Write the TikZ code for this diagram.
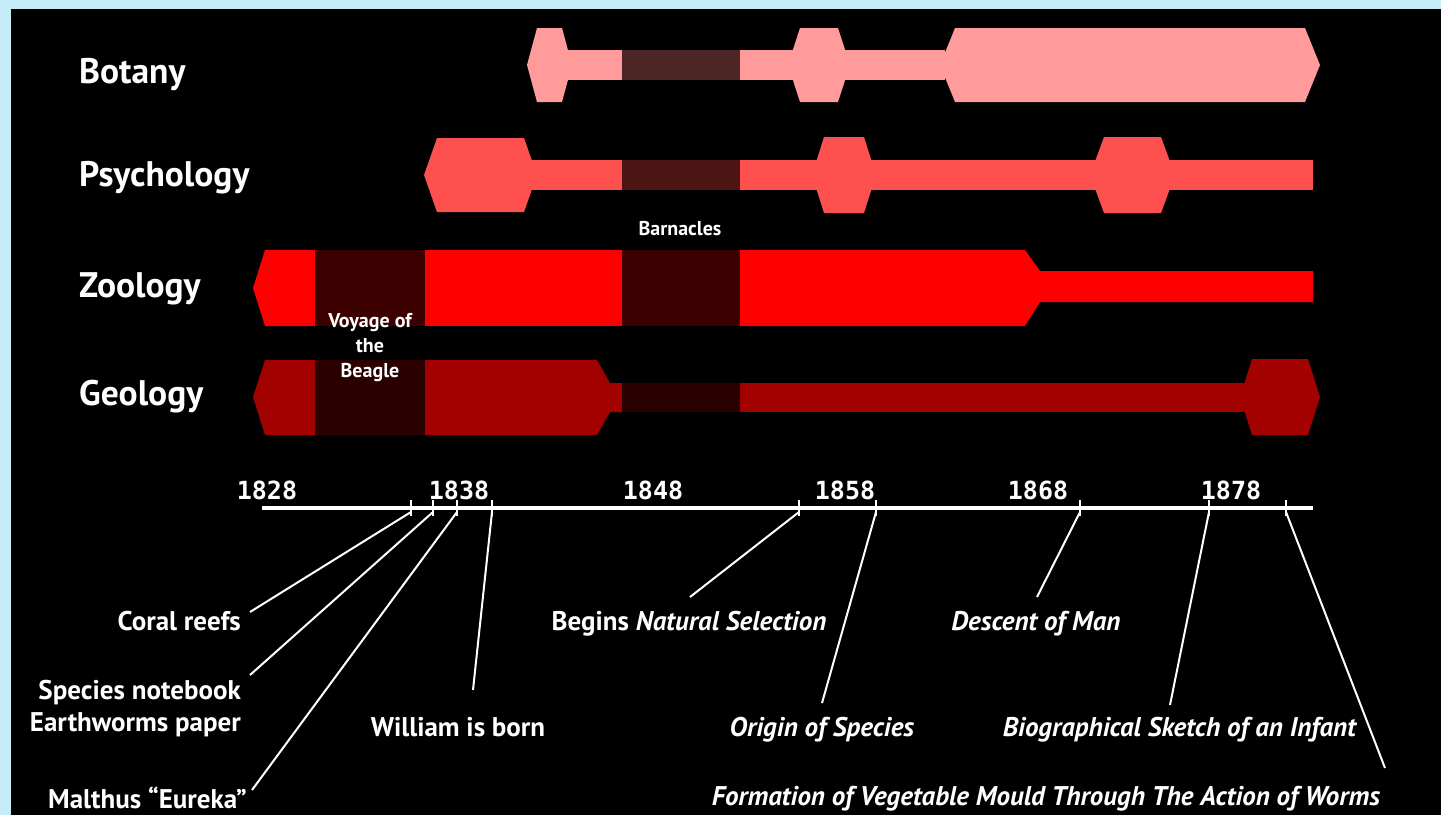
\documentclass[tikz,border=0pt]{standalone}
\usepackage{fontspec}
\setmainfont{PT Sans}
\newfontfamily\yearfont{DejaVu Sans Mono}
\usetikzlibrary{positioning}
\definecolor{sky}{RGB}{198,236,248}
\definecolor{botc}{RGB}{255,155,155}
\definecolor{botd}{RGB}{77,38,38}
\definecolor{psyc}{RGB}{255,80,80}
\definecolor{psyd}{RGB}{77,20,20}
\definecolor{zooc}{RGB}{255,0,0}
\definecolor{zood}{RGB}{60,0,0}
\definecolor{geoc}{RGB}{163,0,0}
\definecolor{geod}{RGB}{42,0,0}

\begin{document}
\begin{tikzpicture}[x=1pt,y=-1pt,
	field/.style={text=white,font=\fontsize{35.5}{38}\selectfont\bfseries,anchor=base west,inner sep=0pt},
	yearlbl/.style={text=white,font=\fontsize{25}{27}\selectfont\yearfont\bfseries,anchor=base,inner sep=0pt},
	event/.style={text=white,font=\fontsize{27}{29}\selectfont\bfseries,inner sep=0pt},
	small/.style={text=white,font=\fontsize{20}{25}\selectfont\bfseries,align=center,inner sep=0pt},
	lead/.style={white,line width=2pt}]
\def\hex#1#2#3#4#5{(#1,#3) -- (#1+#5,#3-#4) -- (#2-#5,#3-#4) -- (#2,#3) -- (#2-#5,#3+#4) -- (#1+#5,#3+#4) -- cycle}

\useasboundingbox (0,0) rectangle (1441,815);
\fill[sky] (0,0) rectangle (1441,815);
\fill[black] (11,9) rectangle (1441,815);

\foreach \l/\n/\y in {bot/Botany/83,psy/Psychology/186,zoo/Zoology/297,geo/Geology/405}
	\node[field] (\l) at (79,\y) {\n};

% Botany
\fill[botc] (560,50) rectangle (945,80);
\fill[botd] (622,50) rectangle (740,80);
\fill[botc] \hex{527}{572}{65}{37}{10};
\fill[botc] \hex{788}{850}{65}{37}{12};
\fill[botc] \hex{940}{1320}{65}{37}{15};

% Psychology
\fill[psyc] (530,160) rectangle (1313,190);
\fill[psyd] (622,160) rectangle (740,190);
\fill[psyc] \hex{424}{537}{175}{37}{13};
\fill[psyc] \hex{812}{876}{175}{38}{12};
\fill[psyc] \hex{1090}{1175}{175}{38}{14};

% Zoology
\fill[zooc] (253,288) -- (265,250) -- (315,250) -- (315,326) -- (265,326) -- cycle;
\fill[zood] (315,250) rectangle (425,326);
\fill[zooc] (425,250) rectangle (622,326);
\fill[zood] (622,250) rectangle (740,326);
\fill[zooc] (740,250) -- (1025,250) -- (1040,271) -- (1313,271) -- (1313,302)
	-- (1040,302) -- (1025,326) -- (740,326) -- cycle;

% Geology
\fill[geoc] (253,397) -- (265,360) -- (315,360) -- (315,435) -- (265,435) -- cycle;
\fill[geod] (315,360) rectangle (425,435);
\fill[geoc] (425,360) -- (597,360) -- (610,383) -- (622,383) -- (622,412)
	-- (610,412) -- (597,435) -- (425,435) -- cycle;
\fill[geod] (622,383) rectangle (740,412);
\fill[geoc] (740,383) rectangle (1250,412);
\fill[geoc] \hex{1240}{1320}{397}{38}{12};

\node[small] (barn) at (680,229) {Barnacles};
\node[small] (voy) at (370,348) {Voyage of\\the\\Beagle};

% timeline
\coordinate (a0) at (262,508);
\coordinate (a1) at (1313,508);
\draw[white,line width=4pt] (a0) -- (a1);
\foreach \x/\yr in {267/1828,459/1838,653/1848,845/1858,1038/1868,1231/1878}
	\node[yearlbl] (y\yr) at (\x,499) {\yr};

\foreach \x/\l in {411/t1,433/t2,457/t3,492/t4,799/t5,876/t6,1080/t7,1209/t8,1286/t9}{
	\coordinate (\l) at (\x,512);
	\draw[white,line width=2.5pt] (\x,500) -- (\x,516);
}

\node[event,anchor=base east] (coral) at (241,630) {Coral reefs};
\node[event,anchor=base east] (spec) at (241,699) {Species notebook};
\node[event,below left=8pt and 0pt of spec.south east] (worm) {Earthworms paper};
\node[event,anchor=base east] (malt) at (247,808) {Malthus “Eureka”};
\node[event,anchor=base] (will) at (458,736) {William is born};
\node[event,anchor=base] (nat) at (689,630) {Begins \textit{Natural Selection}};
\node[event,anchor=base] (orig) at (822,736) {\textit{Origin of Species}};
\node[event,anchor=base] (desc) at (1036,630) {\textit{Descent of Man}};
\node[event,anchor=base] (bio) at (1180,736) {\textit{Biographical Sketch of an Infant}};
\node[event,anchor=base] (form) at (1046,805) {\textit{Formation of Vegetable Mould Through The Action of Worms}};

\foreach \l/\x/\y in {e1/250/612,e2/250/675,e3/252/790,e4/473/690,e5/690/597,e6/822/703,e7/1037/597,e8/1170/705,e9/1385/768}
	\coordinate (\l) at (\x,\y);
\foreach \a/\b in {t1/e1,t2/e2,t3/e3,t4/e4,t5/e5,t6/e6,t7/e7,t8/e8,t9/e9}
	\draw[lead] (\a) -- (\b);
\end{tikzpicture}
\end{document}
